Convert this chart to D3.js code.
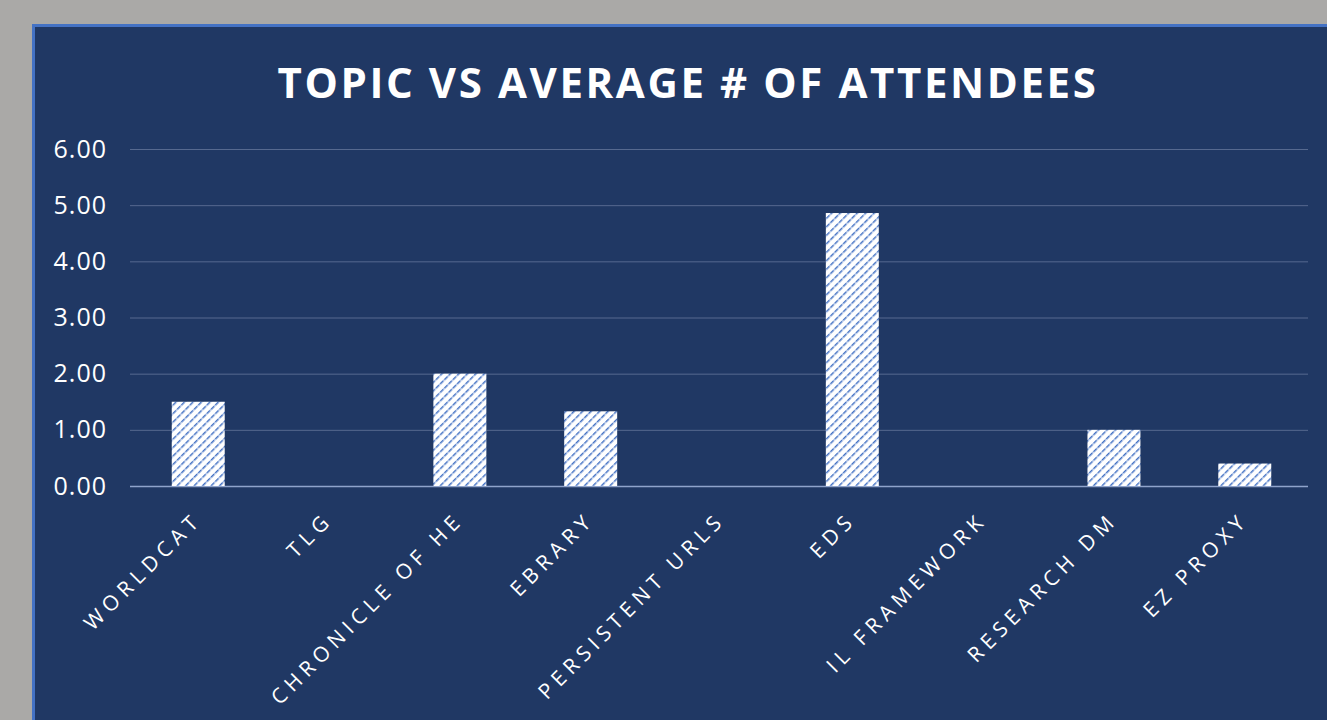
<!DOCTYPE html>
<html>
<head>
<meta charset="utf-8">
<script src="https://cdn.jsdelivr.net/npm/d3@7"></script>
<style>
  body { margin: 0; background: #aaa9a7; overflow: hidden; }
</style>
</head>
<body>
<div id="chart"></div>
<script>
// data
const topics = ["WORLDCAT", "TLG", "CHRONICLE OF HE", "EBRARY", "PERSISTENT URLS",
                "EDS", "IL FRAMEWORK", "RESEARCH DM", "EZ PROXY"];
const avgAttendees = [1.5, 0, 2.0, 1.33, 0, 4.86, 0, 1.0, 0.4];
const yTicks = [0, 1, 2, 3, 4, 5, 6];

const width = 1327;
const height = 720;
const margin = {t: 149, b: 234, l: 130, r: 19};

const svg = d3.select("#chart")
    .append("svg")
    .attr("width", width)
    .attr("height", height);

// pattern for the bars
const defs = svg.append("defs");
const pat = defs.append("pattern")
    .attr("id", "hatch")
    .attr("patternUnits", "userSpaceOnUse")
    .attr("width", 6)
    .attr("height", 6)
    .attr("patternTransform", "rotate(45)");
pat.append("rect").attr("width", 6).attr("height", 6).attr("fill", "white");
pat.append("line")
    .attr("x1", 0).attr("y1", 0).attr("x2", 0).attr("y2", 6)
    .attr("stroke", "#4472c4")
    .attr("stroke-width", 3)
    .attr("stroke-dasharray", "2.5,1");

// panel
svg.append("rect")
    .attr("x", 33.5)
    .attr("y", 25.5)
    .attr("width", width)
    .attr("height", height)
    .attr("fill", "#203864")
    .attr("stroke", "#4472c4")
    .attr("stroke-width", 3);

svg.append("text")
    .attr("x", 688)
    .attr("y", 98)
    .attr("fill", "white")
    .attr("text-anchor", "middle")
    .attr("font-family", "Open Sans")
    .attr("font-weight", "bold")
    .attr("font-size", "42px")
    .attr("letter-spacing", "2.6px")
    .text("TOPIC VS AVERAGE # OF ATTENDEES");

const xScale = d3.scaleBand()
    .domain(topics)
    .range([margin.l + 2.5, width - margin.r + 2.5])
    .paddingInner(0.595)
    .paddingOuter(0.3);

const yScale = d3.scaleLinear()
    .domain([0, 6])
    .range([height - margin.b, margin.t]);

// gridlines + y labels
const yAxis = d3.axisLeft(yScale)
    .tickValues(yTicks)
    .tickSize(-(width - margin.r - margin.l))
    .tickPadding(23)
    .tickFormat(d3.format(".2f"));
const gy = svg.append("g")
    .attr("class", "yAxis")
    .attr("transform", `translate(${margin.l}, 0)`)
    .call(yAxis);
gy.select(".domain").remove();
gy.selectAll(".tick line")
    .attr("stroke", d => d === 0 ? "#8fa3cb" : "#56698f")
    .attr("stroke-width", d => d === 0 ? 1.5 : 1);
gy.selectAll(".tick text")
    .attr("fill", "white")
    .attr("font-family", "Open Sans")
    .attr("font-size", "25px")
    .attr("letter-spacing", "1px");

// bars
svg.selectAll(".bar")
    .data(topics)
    .enter()
    .append("rect")
    .attr("class", "bar")
    .attr("x", d => xScale(d))
    .attr("y", (d, i) => yScale(avgAttendees[i]))
    .attr("width", xScale.bandwidth())
    .attr("height", (d, i) => yScale(0) - yScale(avgAttendees[i]))
    .attr("fill", "url(#hatch)");

// x axis labels
const xAxis = d3.axisBottom(xScale).tickSize(0).tickPadding(0);
const gx = svg.append("g")
    .attr("class", "xAxis")
    .attr("transform", `translate(0, ${height - margin.b})`)
    .call(xAxis);
gx.select(".domain").remove();
gx.selectAll(".tick text")
    .attr("fill", "white")
    .attr("font-family", "Open Sans")
    .attr("font-size", "21px")
    .attr("letter-spacing", "5.4px")
    .attr("text-anchor", "end")
    .attr("dy", 0)
    .attr("transform", "translate(5, 35) rotate(-45)");
</script>
</body>
</html>
